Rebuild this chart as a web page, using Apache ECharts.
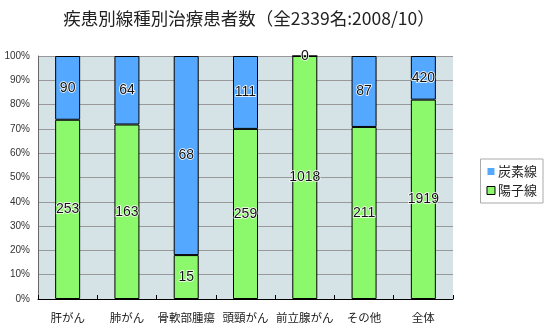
<!DOCTYPE html>
<html>
<head>
<meta charset="utf-8">
<script src="https://cdn.jsdelivr.net/npm/echarts@6/dist/echarts.min.js"></script>
<style>
  html, body { margin: 0; padding: 0; background: #fff; }
  #chart { width: 550px; height: 330px; }
</style>
</head>
<body>
<div id="chart"></div>
<script>
// Patients by disease and beam type
const categories = ['肝がん', '肺がん', '骨軟部腫瘍', '頭頸がん', '前立腺がん', 'その他', '全体'];
const protonCounts = [253, 163, 15, 259, 1018, 211, 1919];   // 陽子線
const carbonCounts = [90, 64, 68, 111, 0, 87, 420];          // 炭素線
const yTicks = [0, 10, 20, 30, 40, 50, 60, 70, 80, 90, 100];

const totals = categories.map((_, i) => protonCounts[i] + carbonCounts[i]);
const pct = (arr) => arr.map((v, i) => v / totals[i] * 100);

const FONT = '"Noto Sans CJK JP", "Noto Sans", sans-serif';
const NUM_FONT = '"Liberation Sans", Arial, sans-serif';

const labelStyle = (arr) => ({
  show: true,
  position: 'inside',
  fontFamily: NUM_FONT,
  fontSize: 14,
  color: '#111',
  textBorderColor: '#fff',
  textBorderWidth: 1.5,
  formatter: (p) => String(arr[p.dataIndex])
});

const chart = echarts.init(document.getElementById('chart'));
chart.setOption({
  animation: false,
  title: {
    text: '疾患別線種別治療患者数（全2339名:2008/10）',
    left: 244,
    textAlign: 'center',
    top: 5,
    textStyle: { fontFamily: FONT, fontSize: 17.5, fontWeight: 'normal', color: '#222' }
  },
  legend: {
    orient: 'vertical',
    right: 7,
    top: 159,
    width: 60,
    padding: [6, 6, 6, 6],
    itemGap: 6,
    itemWidth: 8,
    itemHeight: 8,
    backgroundColor: '#fff',
    borderColor: '#aaa',
    borderWidth: 1,
    textStyle: { fontFamily: FONT, fontSize: 13, color: '#222', padding: [0, 0, 0, -2] },
    data: [
      { name: '炭素線', icon: 'rect', itemStyle: { color: '#55a8ff', borderColor: '#fff', borderWidth: 1 } },
      { name: '陽子線', icon: 'rect', itemStyle: { color: '#8cf86c', borderColor: '#000', borderWidth: 1 } }
    ]
  },
  grid: {
    left: 38, right: 97, top: 56, bottom: 31,
    show: true,
    backgroundColor: '#d5e3e6',
    borderWidth: 0
  },
  xAxis: {
    type: 'category',
    data: categories,
    axisLine: { lineStyle: { color: '#000', width: 1 } },
    axisTick: { show: true, inside: true, length: 4, lineStyle: { color: '#000' } },
    axisLabel: { interval: 0, fontFamily: FONT, fontSize: 11.5, color: '#222', margin: 13 }
  },
  yAxis: {
    type: 'value',
    min: yTicks[0],
    max: yTicks[yTicks.length - 1],
    interval: 10,
    axisLine: { show: true, lineStyle: { color: '#666' } },
    axisTick: { show: false },
    axisLabel: { fontFamily: NUM_FONT, fontSize: 10, color: '#333', formatter: '{value}%', margin: 8 },
    splitLine: { show: true, lineStyle: { color: '#999', width: 1 } }
  },
  series: [
    {
      name: '陽子線',
      type: 'bar',
      stack: 'total',
      barWidth: 25,
      data: pct(protonCounts),
      itemStyle: { color: '#8cf86c', borderColor: '#000', borderWidth: 1 },
      label: labelStyle(protonCounts)
    },
    {
      name: '炭素線',
      type: 'bar',
      stack: 'total',
      barWidth: 25,
      data: pct(carbonCounts),
      itemStyle: { color: '#55a8ff', borderColor: '#000', borderWidth: 1 },
      label: labelStyle(carbonCounts)
    }
  ]
});
</script>
</body>
</html>
